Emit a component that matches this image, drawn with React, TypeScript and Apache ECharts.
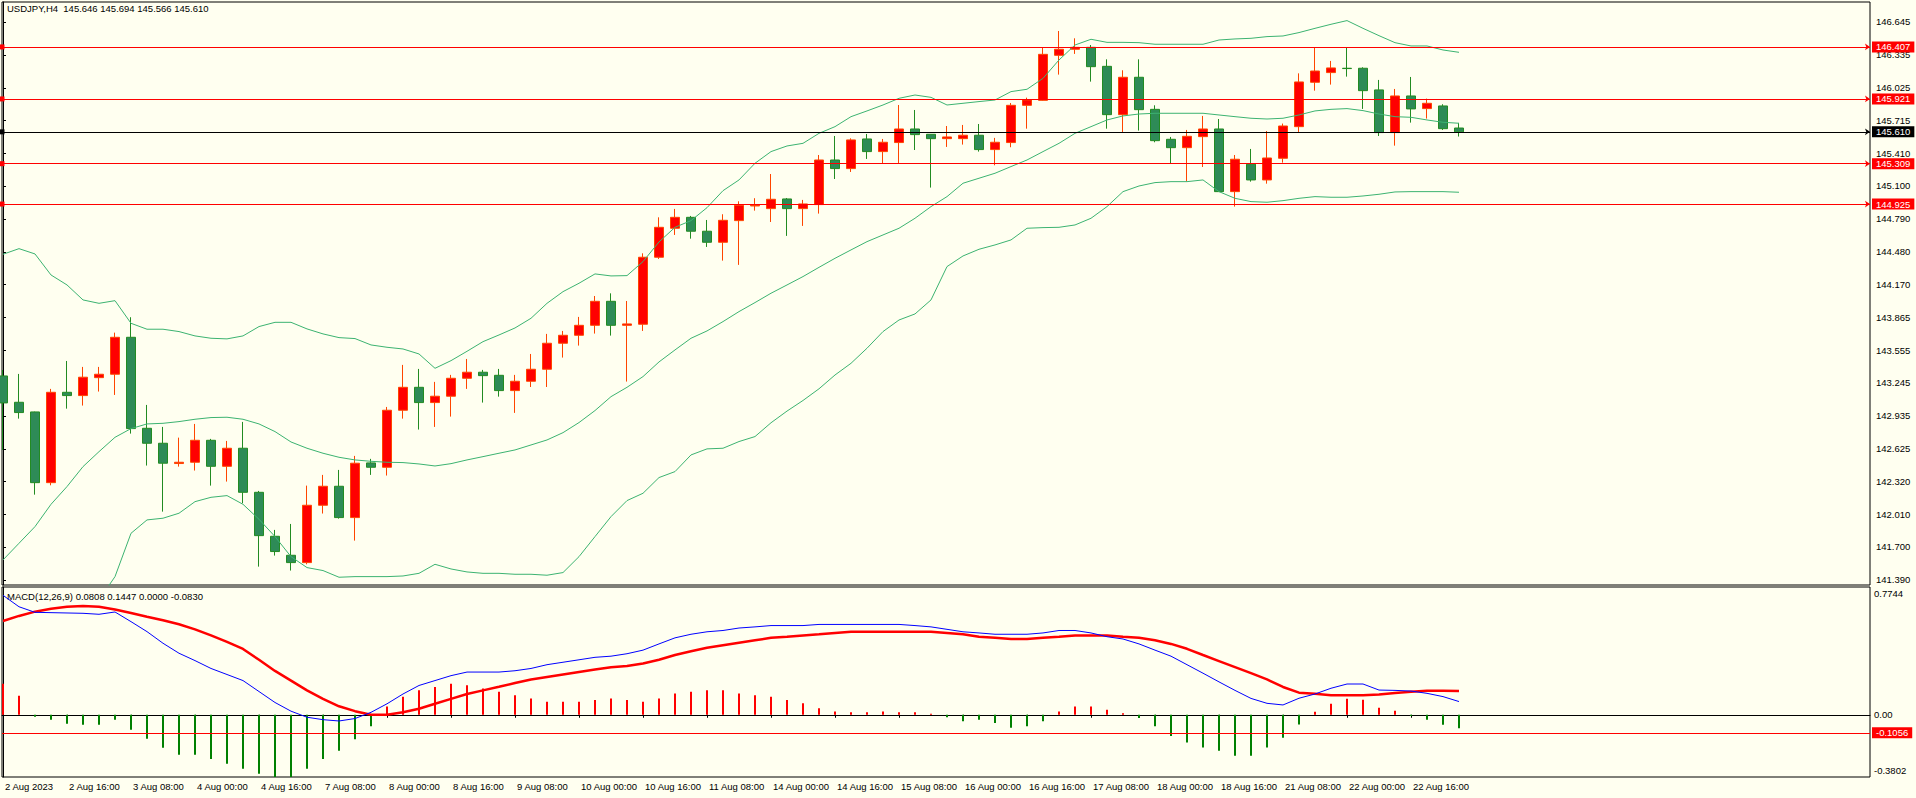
import React, { useEffect, useRef } from "react";
import * as echarts from "echarts";

const TITLE = "USDJPY,H4  145.646 145.694 145.566 145.610";
const MACD_TITLE = "MACD(12,26,9) 0.0808 0.1447 0.0000 -0.0830";

const opens = [143.311,143.063,142.972,142.306,143.157,143.126,143.295,143.327,143.675,142.818,142.677,142.486,142.498,142.705,142.460,142.630,142.215,141.801,141.622,141.553,142.093,142.272,141.977,142.492,142.451,142.988,143.204,143.060,143.120,143.289,143.346,143.317,143.173,143.261,143.374,143.619,143.694,143.788,144.014,143.788,143.798,144.429,144.702,144.805,144.674,144.570,144.774,144.912,144.887,144.978,144.887,144.925,145.345,145.264,145.543,145.424,145.509,145.637,145.587,145.546,145.546,145.578,145.443,145.509,145.860,145.907,146.331,146.388,146.406,146.227,145.772,146.124,145.822,145.540,145.461,145.565,145.637,145.047,145.305,145.157,145.361,145.659,146.077,146.168,146.209,146.209,146.005,145.603,145.948,145.829,145.854,145.646];
const highs = [143.367,143.330,142.975,143.189,143.452,143.396,143.396,143.719,143.864,143.038,142.831,142.730,142.859,142.718,142.699,142.878,142.228,141.861,141.917,142.278,142.379,142.426,142.558,142.530,143.019,143.415,143.377,143.255,143.321,143.471,143.368,143.377,143.321,143.518,143.707,143.735,143.867,144.064,144.089,144.017,144.466,144.805,144.884,144.818,144.780,144.834,144.956,144.985,145.213,144.987,144.969,145.392,145.571,145.549,145.590,145.543,145.863,145.816,145.587,145.665,145.675,145.684,145.553,145.882,145.932,146.403,146.560,146.491,146.428,146.293,146.190,146.293,145.860,145.562,145.628,145.760,145.731,145.392,145.449,145.618,145.688,146.161,146.400,146.278,146.400,146.218,146.099,146.014,146.127,145.923,145.870,145.694];
const lows = [142.614,142.909,142.193,142.281,143.003,143.032,143.164,143.132,142.768,142.467,142.033,142.457,142.420,142.278,142.316,142.112,141.515,141.619,141.478,141.537,142.015,141.967,141.760,142.379,142.373,142.909,142.806,142.831,142.928,143.189,143.060,143.116,142.963,143.207,143.207,143.484,143.597,143.710,143.691,143.258,143.735,144.413,144.639,144.604,144.526,144.397,144.357,144.868,144.761,144.630,144.724,144.840,145.166,145.232,145.355,145.308,145.308,145.439,145.085,145.468,145.490,145.424,145.295,145.465,145.640,145.904,146.149,146.344,146.083,145.640,145.606,145.622,145.512,145.308,145.144,145.279,145.044,144.906,145.141,145.122,145.320,145.609,145.998,146.055,146.130,145.826,145.571,145.480,145.697,145.735,145.628,145.566];
const closes = [143.057,142.966,142.306,143.157,143.126,143.299,143.327,143.675,142.815,142.677,142.489,142.498,142.705,142.460,142.630,142.215,141.807,141.657,141.553,142.093,142.272,141.977,142.489,142.451,142.988,143.204,143.060,143.120,143.289,143.346,143.314,143.173,143.261,143.374,143.619,143.694,143.788,144.014,143.788,143.801,144.429,144.711,144.805,144.674,144.570,144.777,144.918,144.918,144.975,144.887,144.931,145.345,145.264,145.534,145.424,145.512,145.637,145.584,145.546,145.562,145.578,145.443,145.512,145.860,145.910,146.340,146.388,146.406,146.224,145.772,146.124,145.819,145.527,145.461,145.568,145.637,145.047,145.352,145.157,145.364,145.665,146.080,146.183,146.212,146.206,145.998,145.603,145.948,145.826,145.879,145.640,145.610];

const bbUpper = [144.457,144.510,144.460,144.262,144.168,144.027,143.995,144.020,143.807,143.751,143.751,143.729,143.688,143.666,143.660,143.688,143.776,143.816,143.816,143.754,143.707,143.672,143.663,143.603,143.581,143.565,143.518,143.383,143.455,143.543,143.634,143.697,143.763,143.854,143.995,144.105,144.184,144.272,144.253,144.256,144.388,144.573,144.711,144.774,144.896,145.056,145.157,145.314,145.424,145.477,145.502,145.596,145.659,145.753,145.807,145.863,145.926,145.957,145.935,145.863,145.879,145.895,145.910,145.989,146.011,146.114,146.287,146.428,146.482,146.453,146.453,146.450,146.435,146.435,146.435,146.435,146.475,146.485,146.491,146.507,146.513,146.545,146.585,146.623,146.658,146.585,146.516,146.450,146.419,146.419,146.381,146.359];
const bbMiddle = [141.578,141.735,141.892,142.102,142.269,142.457,142.598,142.733,142.815,142.859,142.865,142.881,142.903,142.919,142.922,142.903,142.859,142.787,142.689,142.630,142.583,142.545,142.520,142.507,142.498,142.495,142.482,142.463,142.485,142.520,142.551,142.583,142.614,142.661,142.708,142.777,142.872,142.985,143.116,143.204,143.305,143.443,143.556,143.666,143.735,143.823,143.917,144.002,144.090,144.168,144.247,144.334,144.419,144.498,144.576,144.639,144.702,144.796,144.906,145.000,145.126,145.173,145.220,145.283,145.345,145.424,145.502,145.596,145.659,145.722,145.760,145.778,145.785,145.785,145.785,145.785,145.769,145.753,145.738,145.731,145.738,145.769,145.807,145.822,145.829,145.810,145.778,145.753,145.747,145.722,145.700,145.691];
const bbLower = [138.699,138.960,139.324,139.943,140.370,140.887,141.201,141.421,141.829,141.955,141.971,142.018,142.127,142.168,142.184,142.102,141.961,141.798,141.609,141.506,141.478,141.415,141.421,141.421,141.421,141.427,141.452,141.537,141.493,141.465,141.452,141.452,141.443,141.443,141.434,141.459,141.609,141.798,141.986,142.137,142.206,142.354,142.410,142.567,142.624,142.630,142.693,142.740,142.870,142.980,143.080,143.190,143.320,143.430,143.572,143.729,143.838,143.895,144.027,144.341,144.441,144.504,144.545,144.592,144.702,144.708,144.711,144.733,144.796,144.906,145.047,145.100,145.132,145.141,145.141,145.157,145.047,144.984,144.953,144.947,144.962,144.984,145.000,144.994,144.994,145.006,145.022,145.044,145.047,145.047,145.047,145.041];

const macdMain = [0.73,0.66,0.626,0.624,0.622,0.620,0.614,0.628,0.569,0.508,0.437,0.376,0.331,0.283,0.246,0.209,0.142,0.075,0.022,-0.015,-0.030,-0.038,-0.023,0.015,0.067,0.127,0.179,0.209,0.239,0.261,0.261,0.261,0.269,0.283,0.306,0.321,0.336,0.351,0.358,0.373,0.395,0.433,0.470,0.492,0.507,0.515,0.530,0.537,0.545,0.545,0.545,0.552,0.552,0.552,0.552,0.552,0.552,0.545,0.537,0.522,0.507,0.500,0.492,0.492,0.492,0.500,0.515,0.515,0.500,0.477,0.463,0.433,0.395,0.358,0.306,0.254,0.201,0.149,0.100,0.070,0.060,0.101,0.127,0.162,0.188,0.188,0.151,0.149,0.145,0.131,0.111,0.0808];
const macdSignal = [0.573,0.604,0.630,0.648,0.660,0.665,0.660,0.643,0.622,0.599,0.577,0.553,0.522,0.485,0.445,0.402,0.336,0.268,0.209,0.149,0.097,0.052,0.022,0.000,0.000,0.015,0.037,0.067,0.097,0.127,0.149,0.171,0.194,0.216,0.231,0.246,0.261,0.276,0.291,0.298,0.313,0.336,0.365,0.388,0.410,0.425,0.440,0.455,0.470,0.477,0.485,0.492,0.500,0.507,0.507,0.507,0.507,0.507,0.507,0.500,0.492,0.477,0.470,0.463,0.463,0.470,0.477,0.485,0.485,0.485,0.477,0.470,0.455,0.433,0.403,0.365,0.328,0.291,0.254,0.216,0.170,0.135,0.128,0.120,0.120,0.120,0.124,0.133,0.140,0.147,0.147,0.1447];
const macdHist = [0.189,0.116,-0.012,-0.031,-0.055,-0.061,-0.061,-0.031,-0.092,-0.147,-0.202,-0.244,-0.244,-0.27,-0.30,-0.33,-0.36,-0.38,-0.39,-0.33,-0.27,-0.22,-0.15,-0.07,0.05,0.11,0.15,0.17,0.19,0.18,0.16,0.14,0.12,0.10,0.08,0.08,0.08,0.09,0.10,0.09,0.08,0.10,0.13,0.14,0.15,0.15,0.13,0.12,0.11,0.09,0.07,0.04,0.02,0.015,0.015,0.02,0.015,0.015,0.007,-0.015,-0.04,-0.03,-0.05,-0.08,-0.07,-0.04,0.02,0.05,0.05,0.03,0.01,-0.02,-0.07,-0.13,-0.17,-0.20,-0.22,-0.25,-0.25,-0.20,-0.14,-0.06,0.018,0.067,0.098,0.092,0.043,0.024,-0.008,-0.031,-0.061,-0.083];

const dateTickIndex = [0,4,8,12,16,20,24,28,32,36,40,44,48,52,56,60,64,68,72,76,80,84,88];
const dateTickLabels = ["2 Aug 2023","2 Aug 16:00","3 Aug 08:00","4 Aug 00:00","4 Aug 16:00","7 Aug 08:00","8 Aug 00:00","8 Aug 16:00","9 Aug 08:00","10 Aug 00:00","10 Aug 16:00","11 Aug 08:00","14 Aug 00:00","14 Aug 16:00","15 Aug 08:00","16 Aug 00:00","16 Aug 16:00","17 Aug 08:00","18 Aug 00:00","18 Aug 16:00","21 Aug 08:00","22 Aug 00:00","22 Aug 16:00"];
const priceTicks = [146.645,146.335,146.025,145.715,145.410,145.100,144.790,144.480,144.170,143.865,143.555,143.245,142.935,142.625,142.320,142.010,141.700,141.390];
const macdTicks = [0.7744, 0, -0.3802];
const macdTickLabels = ["0.7744", "0.00", "-0.3802"];
const levelLines = [146.407, 145.921, 145.309, 144.925];
const levelLabels = ["146.407", "145.921", "145.309", "144.925"];
const bidPrice = 145.610;
const bidLabel = "145.610";
const macdLevel = -0.1056;
const macdLevelLabel = "-0.1056";

const FONT = "'Liberation Sans', Arial, sans-serif";
const FS = 9.5;

export default function App() {
  const ref = useRef<HTMLDivElement>(null);
  useEffect(() => {
    if (!ref.current) return;
    const chart = echarts.init(ref.current, null, { renderer: "svg" });
    const idx = opens.map((_, i) => i);
    const xMin = -0.0625;
    const xMax = 116.6875;
    const pt = (arr: number[]) => idx.map((i) => [i, arr[i]]);
    const boxLabel = (bg: string, text: string) => ({
      show: true,
      position: "end",
      distance: 2,
      formatter: text,
      color: "#fff",
      backgroundColor: bg,
      padding: [1, 4, 0, 4],
      fontSize: FS,
      fontFamily: FONT,
    });
    const option: any = {
      animation: false,
      backgroundColor: "#FFFFF0",
      textStyle: { fontFamily: FONT },
      grid: [
        { left: 2, top: 2, width: 1868, height: 583, show: true, borderColor: "#000", borderWidth: 1, backgroundColor: "transparent" },
        { left: 2, top: 587, width: 1868, height: 190, show: true, borderColor: "#000", borderWidth: 1, backgroundColor: "transparent" },
      ],
      xAxis: [
        { type: "value", gridIndex: 0, min: xMin, max: xMax, show: false },
        {
          type: "value", gridIndex: 1, min: xMin, max: xMax,
          axisLine: { show: true, lineStyle: { color: "#000" } },
          axisTick: { show: true, customValues: dateTickIndex, length: 3, lineStyle: { color: "#000" } },
          axisLabel: {
            customValues: dateTickIndex,
            formatter: (v: number) => {
              const k = dateTickIndex.indexOf(Math.round(v));
              return k >= 0 ? dateTickLabels[k] : "";
            },
            align: "left", padding: [0, 0, 0, 2], margin: 4, color: "#000", fontSize: FS, fontFamily: FONT,
          },
          splitLine: { show: false },
        },
      ],
      yAxis: [
        {
          type: "value", gridIndex: 0, position: "right", min: 141.342, max: 146.833, scale: true,
          axisLine: { show: true, lineStyle: { color: "#000" } },
          axisTick: { show: true, customValues: priceTicks, length: 3, lineStyle: { color: "#000" } },
          axisLabel: { customValues: priceTicks, formatter: (v: number) => v.toFixed(3), margin: 6, color: "#000", fontSize: FS, fontFamily: FONT },
          splitLine: { show: false },
        },
        {
          type: "value", gridIndex: 1, position: "right", min: -0.3802, max: 0.7807, scale: true,
          axisLine: { show: true, lineStyle: { color: "#000" } },
          axisTick: { show: true, customValues: [0], length: 3, lineStyle: { color: "#000" } },
          axisLabel: {
            customValues: macdTicks,
            formatter: (v: number) => {
              const k = macdTicks.findIndex((t) => Math.abs(t - v) < 1e-6);
              const s = k >= 0 ? macdTickLabels[k] : "";
              if (k === 0) return "{t|" + s + "}";
              if (k === 2) return "{b|" + s + "}";
              return "{m|" + s + "}";
            },
            margin: 4,
            rich: {
              t: { padding: [11, 0, 0, 0], fontSize: FS, fontFamily: FONT, color: "#000" },
              b: { padding: [0, 0, 13, 0], fontSize: FS, fontFamily: FONT, color: "#000" },
              m: { fontSize: FS, fontFamily: FONT, color: "#000" },
            },
          },
          splitLine: { show: false },
        },
      ],
      series: [
        {
          type: "candlestick", xAxisIndex: 0, yAxisIndex: 0,
          data: idx.map((i) => [i, opens[i], closes[i], lows[i], highs[i]]),
          encode: { x: 0, y: [1, 2, 3, 4] },
          barWidth: 10,
          itemStyle: { color: "#FF0000", color0: "#2E8B57", borderColor: "#FF4500", borderColor0: "#228B22", borderWidth: 1 },
          markLine: {
            silent: true,
            animation: false,
            symbolSize: 5,
            data: [
              ...levelLines.map((v, k) => ({
                yAxis: v,
                symbol: ["emptyRect", "emptyRect"],
                lineStyle: { color: "#FF0000", width: 1, type: "solid" },
                label: boxLabel("#FF0000", levelLabels[k]),
              })),
              {
                yAxis: bidPrice,
                symbol: ["none", "none"],
                lineStyle: { color: "#000", width: 1, type: "solid" },
                label: boxLabel("#000", bidLabel),
              },
            ],
          },
        },
        { type: "line", xAxisIndex: 0, yAxisIndex: 0, data: pt(bbUpper), showSymbol: false, symbol: "none", lineStyle: { color: "#3CB371", width: 1 } },
        { type: "line", xAxisIndex: 0, yAxisIndex: 0, data: pt(bbMiddle), showSymbol: false, symbol: "none", lineStyle: { color: "#3CB371", width: 1 } },
        { type: "line", xAxisIndex: 0, yAxisIndex: 0, data: pt(bbLower), showSymbol: false, symbol: "none", lineStyle: { color: "#3CB371", width: 1 } },
        {
          type: "bar", xAxisIndex: 1, yAxisIndex: 1, data: pt(macdHist), barWidth: 2,
          itemStyle: { color: (p: any) => (p.value[1] >= 0 ? "#FF0000" : "#008000") },
          markLine: {
            silent: true,
            animation: false,
            symbol: ["none", "none"],
            data: [{ yAxis: macdLevel, lineStyle: { color: "#FF0000", width: 1, type: "solid" }, label: boxLabel("#FF0000", macdLevelLabel) }],
          },
        },
        { type: "line", xAxisIndex: 1, yAxisIndex: 1, data: pt(macdSignal), showSymbol: false, symbol: "none", lineStyle: { color: "#FF0000", width: 2.5 } },
        { type: "line", xAxisIndex: 1, yAxisIndex: 1, data: pt(macdMain), showSymbol: false, symbol: "none", lineStyle: { color: "#0000FF", width: 1 } },
      ],
      graphic: [
        { type: "text", left: 7, top: 3, style: { text: TITLE, fill: "#000", font: `${FS}px ${FONT}` } },
        { type: "text", left: 7, top: 591, style: { text: MACD_TITLE, fill: "#000", font: `${FS}px ${FONT}` } },
      ],
    };
    chart.setOption(option);
    return () => chart.dispose();
  }, []);
  return (
    <div
      ref={ref}
      style={{ position: "absolute", left: 0, top: 0, width: 1916, height: 798, background: "#FFFFF0" }}
    />
  );
}
